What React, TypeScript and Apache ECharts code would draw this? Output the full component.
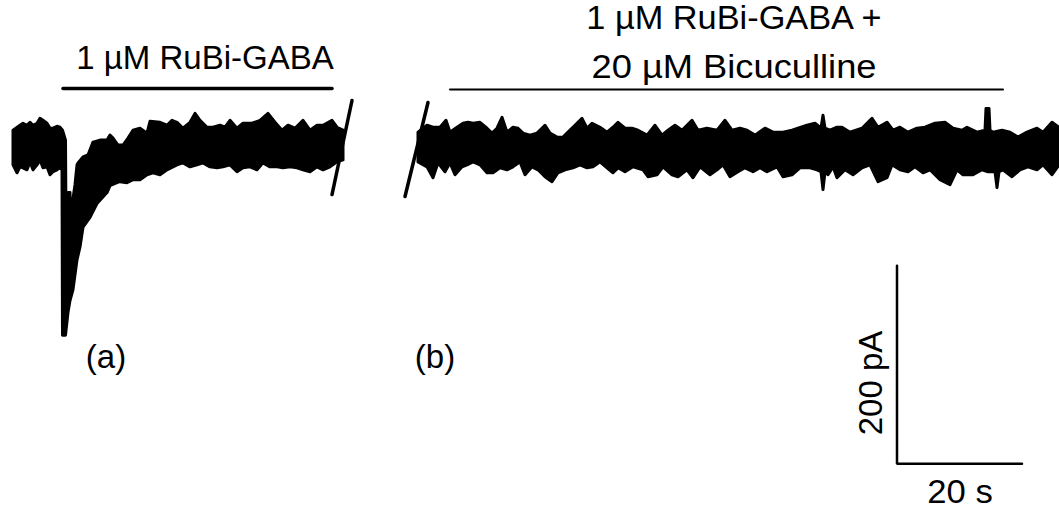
import React, { useEffect, useRef } from "react";
import * as echarts from "echarts";

// Time in seconds, current in pA (0 = holding baseline)
const traceA_upper: [number, number][] = [
  [2.08, 18], [3.2, 23], [3.68, 25], [4.32, 23], [4.8, 26], [5.28, 23], [5.92, 25], [6.4, 30],
  [6.88, 28], [7.52, 25], [8.0, 20], [8.48, 20], [9.12, 22], [9.6, 21], [10.0, 18], [10.48, 8],
  [10.56, -76], [10.88, -76], [10.96, -45], [11.2, -45], [11.28, -76], [11.52, -58], [12.0, -37],
  [12.32, -17], [12.48, -15], [13.28, -9], [14.08, -7], [14.88, 6], [16.0, 8], [17.12, 8],
  [17.6, 13], [18.08, 10], [18.88, 3], [19.68, 3], [20.48, 10], [21.28, 18], [22.4, 20],
  [23.52, 15], [24.0, 27], [25.6, 26], [26.72, 23], [27.52, 28], [28.32, 26], [29.28, 20],
  [30.4, 26], [31.2, 35], [32.0, 28], [33.12, 21], [34.08, 21], [35.2, 23], [36.0, 21],
  [36.8, 28], [37.92, 20], [38.88, 25], [40.32, 25], [41.6, 28], [42.88, 35], [44.0, 26],
  [45.12, 18], [46.08, 23], [47.2, 20], [48.48, 28], [49.6, 18], [50.72, 23], [51.68, 23],
  [53.12, 28], [53.92, 21], [54.88, 18],
];
const traceA_lower: [number, number][] = [
  [2.08, -17], [2.72, -25], [3.2, -19], [3.68, -20], [4.32, -22], [4.8, -14], [5.28, -22],
  [5.92, -17], [6.4, -12], [6.88, -20], [7.52, -19], [8.0, -27], [8.48, -24], [9.12, -22],
  [9.6, -20], [9.92, -22], [10.0, -189], [10.48, -189], [10.88, -166], [11.2, -154],
  [11.68, -143], [12.32, -113], [12.8, -100], [13.28, -80], [14.4, -70], [15.52, -56],
  [17.12, -45], [17.6, -38], [18.72, -35], [19.2, -34], [20.32, -35], [21.28, -32], [22.4, -32],
  [23.52, -27], [24.48, -25], [25.6, -27], [26.72, -22], [27.68, -19], [28.32, -17], [29.28, -15],
  [30.4, -19], [31.52, -17], [32.48, -15], [33.6, -19], [34.72, -20], [35.68, -19], [36.8, -17],
  [37.92, -24], [38.88, -20], [40.0, -19], [41.12, -22], [42.08, -15], [43.2, -19], [44.32, -19],
  [45.28, -20], [46.4, -19], [47.52, -20], [48.48, -22], [49.6, -24], [50.72, -19], [51.68, -22],
  [52.8, -19], [53.92, -14], [54.88, -12],
];
const traceB_upper: [number, number][] = [
  [66.88, 16], [68.32, 23], [69.28, 21], [70.4, 21], [71.36, 28], [72.0, 16], [73.12, 21],
  [74.08, 25], [74.88, 26], [75.68, 25], [76.8, 26], [77.92, 20], [78.72, 15], [79.52, 20],
  [80.32, 31], [81.12, 16], [82.08, 21], [82.88, 20], [83.68, 15], [84.8, 13], [85.92, 15],
  [87.2, 23], [88.0, 15], [89.12, 11], [90.08, 11], [90.88, 16], [92.0, 23], [93.12, 30],
  [93.92, 20], [94.72, 25], [96.0, 21], [97.12, 16], [98.08, 21], [98.88, 26], [100.0, 20],
  [101.12, 20], [102.08, 18], [103.52, 13], [104.8, 23], [105.92, 13], [106.88, 18], [108.0, 23],
  [109.12, 18], [110.72, 28], [111.68, 18], [113.12, 20], [114.72, 18], [116.0, 28], [117.12, 18],
  [118.4, 20], [119.52, 18], [120.8, 13], [122.4, 20], [123.68, 16], [125.28, 16], [126.72, 18],
  [127.68, 20], [129.12, 23], [130.4, 25], [131.36, 20], [131.68, 33], [132.0, 20], [132.8, 18],
  [133.92, 21], [134.72, 21], [136.0, 16], [137.92, 20], [139.52, 30], [140.48, 21], [141.92, 26],
  [142.88, 18], [144.0, 21], [145.28, 16], [146.72, 20], [148.0, 21], [149.6, 25], [151.2, 26],
  [152.48, 20], [153.92, 18], [154.72, 21], [156.32, 16], [157.6, 18], [157.76, 40], [158.24, 40],
  [158.4, 18], [158.88, 16], [160.32, 18], [161.6, 16], [162.88, 11], [164.32, 16], [165.92, 20],
  [166.88, 16], [168.32, 26], [169.44, 21],
];
const traceB_lower: [number, number][] = [
  [66.88, -14], [68.32, -19], [69.28, -30], [70.08, -15], [71.2, -24], [72.0, -15], [72.8, -27],
  [73.92, -19], [74.72, -17], [75.68, -14], [76.8, -17], [77.92, -25], [78.88, -25], [80.0, -20],
  [81.12, -22], [82.08, -19], [83.2, -14], [84.0, -27], [85.12, -19], [86.08, -22], [87.2, -29],
  [88.32, -34], [89.28, -25], [90.4, -22], [91.68, -20], [92.8, -17], [93.92, -20], [94.88, -19],
  [96.0, -14], [97.12, -20], [98.08, -25], [98.88, -20], [100.0, -24], [101.28, -19], [102.88, -22],
  [103.68, -29], [105.12, -27], [106.08, -19], [107.52, -27], [108.48, -29], [109.92, -22],
  [110.88, -30], [112.0, -19], [113.6, -27], [114.72, -22], [115.68, -17], [116.8, -29],
  [118.08, -24], [119.2, -20], [120.48, -24], [121.6, -20], [122.72, -24], [124.32, -19],
  [125.28, -29], [126.72, -27], [128.0, -20], [129.6, -20], [130.72, -22], [131.36, -24],
  [131.68, -42], [132.0, -24], [132.48, -27], [133.28, -19], [133.92, -30], [135.2, -22],
  [136.48, -27], [137.92, -20], [139.2, -17], [140.48, -34], [141.92, -30], [142.72, -17],
  [144.0, -22], [145.28, -24], [146.4, -19], [147.68, -25], [148.8, -22], [150.4, -32], [152.0, -37],
  [153.12, -22], [154.08, -27], [155.68, -27], [157.12, -22], [158.08, -24], [159.2, -24],
  [159.52, -40], [159.84, -24], [160.48, -22], [161.92, -29], [163.2, -22], [164.48, -19],
  [165.92, -22], [166.88, -17], [168.32, -27], [169.44, -17],
];

// Drug application bars [start s, end s, level pA]
const barA: [number, number, number] = [10.08, 53.12, 60];
const barB: [number, number, number] = [72.0, 160.48, 59];
// Axis break marks
const breakA: [number, number][] = [[53.12, -47], [56.32, 48]];
const breakB: [number, number][] = [[64.8, -49], [68.48, 46]];
// Scale bar: origin, 20 s, 200 pA
const scaleOrigin: [number, number] = [143.52, -319];
const scaleTime = 20;
const scaleCurrent = 200;

const labelA = "1 \u00B5M RuBi-GABA";
const labelB1 = "1 \u00B5M RuBi-GABA +";
const labelB2 = "20 \u00B5M Bicuculline";
const panelA = "(a)";
const panelB = "(b)";
const scaleYLabel = "200 pA";
const scaleXLabel = "20 s";

const FONT = "'Liberation Sans', Arial, sans-serif";

function bandSeries(upper: [number, number][], lower: [number, number][]) {
  return {
    type: "custom",
    clip: false,
    data: [[upper[0][0], upper[0][1]]],
    renderItem: (_p: any, api: any) => {
      const pts = upper.map((p) => api.coord(p)).concat(lower.slice().reverse().map((p) => api.coord(p)));
      return {
        type: "polygon",
        shape: { points: pts },
        style: { fill: "#000", stroke: "#000", lineWidth: 3, lineJoin: "round" },
      };
    },
  };
}

function lineSeries(data: [number, number][], width: number) {
  return {
    type: "line",
    data,
    symbol: "none",
    silent: true,
    lineStyle: { color: "#000", width, cap: "round" },
  };
}

export default function App() {
  const ref = useRef<HTMLDivElement>(null);
  useEffect(() => {
    if (!ref.current) return;
    const chart = echarts.init(ref.current, undefined, { renderer: "svg" });
    const txt = (text: string, x: number, y: number, size: number, extra: any = {}) => ({
      type: "text",
      x,
      y,
      ...extra,
      style: { text, fontSize: size, fontFamily: FONT, fill: "#000", align: "center", verticalAlign: "middle" },
    });
    chart.setOption({
      animation: false,
      backgroundColor: "#fff",
      grid: { left: 0, right: 0, top: 0, bottom: 0 },
      xAxis: { type: "value", min: 0, max: 169.44, show: false },
      yAxis: { type: "value", min: -364.6, max: 149.5, show: false },
      series: [
        bandSeries(traceA_upper, traceA_lower),
        bandSeries(traceB_upper, traceB_lower),
        lineSeries([[barA[0], barA[2]], [barA[1], barA[2]]], 3.5),
        lineSeries([[barB[0], barB[2]], [barB[1], barB[2]]], 2),
        lineSeries(breakA, 3.5),
        lineSeries(breakB, 3.5),
        lineSeries(
          [
            [scaleOrigin[0], scaleOrigin[1] + scaleCurrent],
            scaleOrigin,
            [scaleOrigin[0] + scaleTime, scaleOrigin[1]],
          ],
          2.5
        ),
      ],
      graphic: [
        txt(labelA, 205, 57, 33),
        txt(labelB1, 734, 18, 33, { scaleX: 1.04 }),
        txt(labelB2, 734, 67, 33, { scaleX: 1.1 }),
        txt(panelA, 106, 356, 33),
        txt(panelB, 435, 356, 33),
        txt(scaleYLabel, 870, 383, 33, { rotation: Math.PI / 2 }),
        txt(scaleXLabel, 960, 491, 33, { scaleX: 1.05 }),
      ],
    });
    return () => chart.dispose();
  }, []);
  return (
    <div
      ref={ref}
      style={{ position: "absolute", left: 0, top: 0, width: 1059, height: 509, background: "#fff" }}
    />
  );
}
